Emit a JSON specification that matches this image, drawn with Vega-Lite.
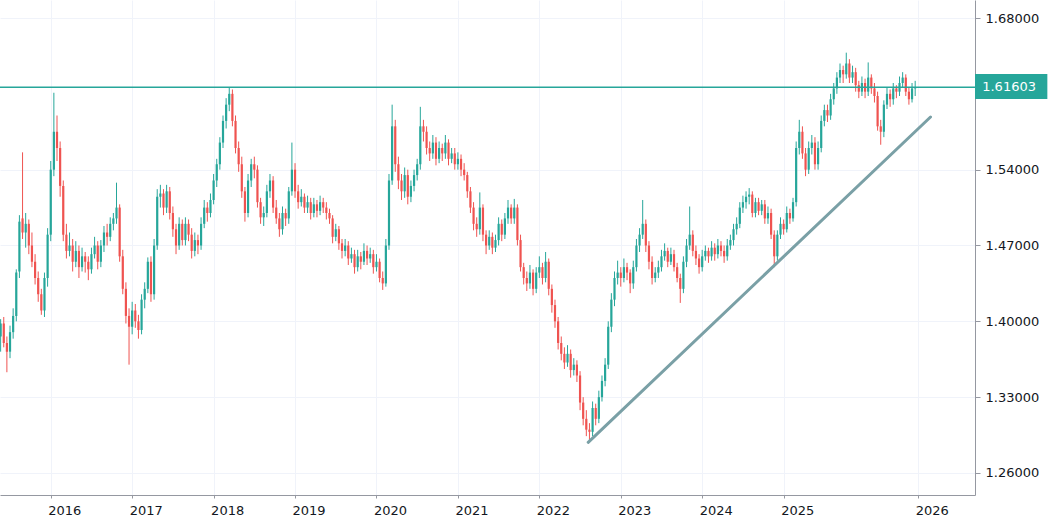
{
  "$schema": "https://vega.github.io/schema/vega-lite/v6.json",
  "description": "Weekly candles with a resistance line at 1.61603 and a rising trend line.",
  "width": 975,
  "height": 495,
  "autosize": {"type": "none"},
  "padding": {"left": 0, "top": 0, "right": 73, "bottom": 31},
  "background": "white",
  "config": {"view": {"stroke": null}, "font": "DejaVu Sans"},
  "datasets": {
    "candles": [
      {"o":1.386,"h":1.402,"l":1.372,"c":1.398},{"o":1.398,"h":1.404,"l":1.376,"c":1.380},{"o":1.380,"h":1.386,"l":1.353,"c":1.372},{"o":1.372,"h":1.396,"l":1.366,"c":1.390},
      {"o":1.390,"h":1.412,"l":1.384,"c":1.405},{"o":1.405,"h":1.448,"l":1.400,"c":1.445},{"o":1.446,"h":1.498,"l":1.440,"c":1.492},{"o":1.495,"h":1.556,"l":1.476,"c":1.482},
      {"o":1.482,"h":1.500,"l":1.468,"c":1.490},{"o":1.490,"h":1.494,"l":1.462,"c":1.470},{"o":1.470,"h":1.482,"l":1.450,"c":1.455},{"o":1.455,"h":1.462,"l":1.434,"c":1.440},
      {"o":1.440,"h":1.446,"l":1.418,"c":1.425},{"o":1.425,"h":1.430,"l":1.406,"c":1.410},{"o":1.410,"h":1.445,"l":1.404,"c":1.440},{"o":1.440,"h":1.486,"l":1.432,"c":1.480},
      {"o":1.480,"h":1.548,"l":1.474,"c":1.540},{"o":1.540,"h":1.611,"l":1.534,"c":1.575},{"o":1.575,"h":1.590,"l":1.548,"c":1.560},{"o":1.560,"h":1.566,"l":1.515,"c":1.525},
      {"o":1.525,"h":1.530,"l":1.474,"c":1.480},{"o":1.480,"h":1.490,"l":1.458,"c":1.465},{"o":1.465,"h":1.482,"l":1.460,"c":1.470},{"o":1.470,"h":1.476,"l":1.446,"c":1.455},
      {"o":1.455,"h":1.474,"l":1.450,"c":1.465},{"o":1.465,"h":1.470,"l":1.440,"c":1.450},{"o":1.450,"h":1.468,"l":1.446,"c":1.460},{"o":1.460,"h":1.464,"l":1.445,"c":1.455},
      {"o":1.455,"h":1.460,"l":1.438,"c":1.448},{"o":1.448,"h":1.468,"l":1.444,"c":1.462},{"o":1.462,"h":1.478,"l":1.458,"c":1.470},{"o":1.470,"h":1.474,"l":1.448,"c":1.455},
      {"o":1.455,"h":1.475,"l":1.450,"c":1.470},{"o":1.470,"h":1.488,"l":1.464,"c":1.482},{"o":1.482,"h":1.490,"l":1.470,"c":1.478},{"o":1.478,"h":1.496,"l":1.474,"c":1.490},
      {"o":1.490,"h":1.500,"l":1.484,"c":1.495},{"o":1.495,"h":1.528,"l":1.490,"c":1.505},{"o":1.505,"h":1.508,"l":1.455,"c":1.460},{"o":1.460,"h":1.466,"l":1.425,"c":1.430},
      {"o":1.430,"h":1.436,"l":1.398,"c":1.405},{"o":1.405,"h":1.412,"l":1.360,"c":1.395},{"o":1.395,"h":1.418,"l":1.388,"c":1.410},{"o":1.410,"h":1.416,"l":1.394,"c":1.400},
      {"o":1.400,"h":1.406,"l":1.384,"c":1.392},{"o":1.392,"h":1.425,"l":1.388,"c":1.420},{"o":1.420,"h":1.436,"l":1.412,"c":1.430},{"o":1.430,"h":1.459,"l":1.426,"c":1.455},
      {"o":1.455,"h":1.460,"l":1.418,"c":1.425},{"o":1.425,"h":1.476,"l":1.420,"c":1.470},{"o":1.470,"h":1.522,"l":1.466,"c":1.515},{"o":1.515,"h":1.526,"l":1.505,"c":1.518},
      {"o":1.518,"h":1.522,"l":1.498,"c":1.505},{"o":1.505,"h":1.526,"l":1.500,"c":1.520},{"o":1.520,"h":1.524,"l":1.494,"c":1.500},{"o":1.500,"h":1.506,"l":1.478,"c":1.485},
      {"o":1.485,"h":1.490,"l":1.462,"c":1.470},{"o":1.470,"h":1.496,"l":1.466,"c":1.490},{"o":1.490,"h":1.494,"l":1.470,"c":1.475},{"o":1.475,"h":1.496,"l":1.470,"c":1.490},
      {"o":1.490,"h":1.494,"l":1.474,"c":1.480},{"o":1.480,"h":1.486,"l":1.458,"c":1.465},{"o":1.465,"h":1.482,"l":1.460,"c":1.475},{"o":1.475,"h":1.480,"l":1.462,"c":1.470},
      {"o":1.470,"h":1.496,"l":1.466,"c":1.490},{"o":1.490,"h":1.512,"l":1.486,"c":1.505},{"o":1.505,"h":1.510,"l":1.492,"c":1.500},{"o":1.500,"h":1.518,"l":1.496,"c":1.512},
      {"o":1.512,"h":1.536,"l":1.508,"c":1.530},{"o":1.530,"h":1.550,"l":1.524,"c":1.545},{"o":1.545,"h":1.570,"l":1.540,"c":1.565},{"o":1.565,"h":1.590,"l":1.560,"c":1.585},
      {"o":1.585,"h":1.606,"l":1.578,"c":1.600},{"o":1.600,"h":1.616,"l":1.594,"c":1.610},{"o":1.610,"h":1.614,"l":1.580,"c":1.585},{"o":1.585,"h":1.590,"l":1.555,"c":1.560},
      {"o":1.560,"h":1.566,"l":1.538,"c":1.545},{"o":1.545,"h":1.552,"l":1.514,"c":1.520},{"o":1.520,"h":1.524,"l":1.492,"c":1.500},{"o":1.500,"h":1.536,"l":1.496,"c":1.530},
      {"o":1.530,"h":1.550,"l":1.524,"c":1.545},{"o":1.545,"h":1.552,"l":1.532,"c":1.540},{"o":1.540,"h":1.544,"l":1.505,"c":1.510},{"o":1.510,"h":1.514,"l":1.490,"c":1.496},
      {"o":1.496,"h":1.506,"l":1.488,"c":1.500},{"o":1.500,"h":1.526,"l":1.496,"c":1.520},{"o":1.520,"h":1.536,"l":1.514,"c":1.530},{"o":1.530,"h":1.534,"l":1.500,"c":1.505},
      {"o":1.505,"h":1.512,"l":1.490,"c":1.495},{"o":1.495,"h":1.500,"l":1.478,"c":1.485},{"o":1.485,"h":1.506,"l":1.480,"c":1.500},{"o":1.500,"h":1.504,"l":1.488,"c":1.495},
      {"o":1.495,"h":1.524,"l":1.490,"c":1.520},{"o":1.520,"h":1.565,"l":1.516,"c":1.540},{"o":1.540,"h":1.546,"l":1.514,"c":1.520},{"o":1.520,"h":1.526,"l":1.504,"c":1.510},
      {"o":1.510,"h":1.522,"l":1.506,"c":1.515},{"o":1.515,"h":1.518,"l":1.500,"c":1.505},{"o":1.505,"h":1.516,"l":1.500,"c":1.510},{"o":1.510,"h":1.514,"l":1.494,"c":1.500},
      {"o":1.500,"h":1.514,"l":1.496,"c":1.508},{"o":1.508,"h":1.512,"l":1.496,"c":1.502},{"o":1.502,"h":1.516,"l":1.498,"c":1.510},{"o":1.510,"h":1.514,"l":1.500,"c":1.505},
      {"o":1.505,"h":1.510,"l":1.494,"c":1.500},{"o":1.500,"h":1.504,"l":1.490,"c":1.495},{"o":1.495,"h":1.498,"l":1.472,"c":1.478},{"o":1.478,"h":1.490,"l":1.474,"c":1.485},
      {"o":1.485,"h":1.488,"l":1.466,"c":1.472},{"o":1.472,"h":1.476,"l":1.458,"c":1.465},{"o":1.465,"h":1.476,"l":1.460,"c":1.470},{"o":1.470,"h":1.474,"l":1.452,"c":1.458},
      {"o":1.458,"h":1.468,"l":1.454,"c":1.462},{"o":1.462,"h":1.466,"l":1.444,"c":1.450},{"o":1.450,"h":1.466,"l":1.446,"c":1.460},{"o":1.460,"h":1.464,"l":1.448,"c":1.455},
      {"o":1.455,"h":1.472,"l":1.452,"c":1.465},{"o":1.465,"h":1.470,"l":1.452,"c":1.458},{"o":1.458,"h":1.468,"l":1.454,"c":1.462},{"o":1.462,"h":1.466,"l":1.444,"c":1.450},
      {"o":1.450,"h":1.462,"l":1.446,"c":1.455},{"o":1.455,"h":1.458,"l":1.436,"c":1.440},{"o":1.440,"h":1.446,"l":1.429,"c":1.435},{"o":1.435,"h":1.476,"l":1.432,"c":1.470},
      {"o":1.470,"h":1.536,"l":1.466,"c":1.530},{"o":1.530,"h":1.600,"l":1.526,"c":1.580},{"o":1.580,"h":1.586,"l":1.538,"c":1.545},{"o":1.545,"h":1.552,"l":1.522,"c":1.530},
      {"o":1.530,"h":1.536,"l":1.512,"c":1.520},{"o":1.520,"h":1.542,"l":1.514,"c":1.535},{"o":1.535,"h":1.540,"l":1.508,"c":1.515},{"o":1.515,"h":1.530,"l":1.510,"c":1.525},
      {"o":1.525,"h":1.540,"l":1.520,"c":1.535},{"o":1.535,"h":1.550,"l":1.530,"c":1.545},{"o":1.545,"h":1.598,"l":1.540,"c":1.580},{"o":1.580,"h":1.586,"l":1.566,"c":1.575},
      {"o":1.575,"h":1.580,"l":1.554,"c":1.560},{"o":1.560,"h":1.566,"l":1.548,"c":1.555},{"o":1.555,"h":1.572,"l":1.550,"c":1.565},{"o":1.565,"h":1.570,"l":1.544,"c":1.550},
      {"o":1.550,"h":1.566,"l":1.546,"c":1.560},{"o":1.560,"h":1.564,"l":1.548,"c":1.555},{"o":1.555,"h":1.572,"l":1.550,"c":1.565},{"o":1.565,"h":1.568,"l":1.544,"c":1.550},
      {"o":1.550,"h":1.560,"l":1.546,"c":1.555},{"o":1.555,"h":1.560,"l":1.540,"c":1.545},{"o":1.545,"h":1.556,"l":1.540,"c":1.550},{"o":1.550,"h":1.554,"l":1.534,"c":1.540},
      {"o":1.540,"h":1.546,"l":1.530,"c":1.535},{"o":1.535,"h":1.538,"l":1.514,"c":1.520},{"o":1.520,"h":1.524,"l":1.500,"c":1.505},{"o":1.505,"h":1.510,"l":1.484,"c":1.490},
      {"o":1.490,"h":1.496,"l":1.478,"c":1.485},{"o":1.485,"h":1.519,"l":1.480,"c":1.505},{"o":1.505,"h":1.508,"l":1.474,"c":1.480},{"o":1.480,"h":1.484,"l":1.462,"c":1.470},
      {"o":1.470,"h":1.484,"l":1.466,"c":1.478},{"o":1.478,"h":1.482,"l":1.462,"c":1.468},{"o":1.468,"h":1.480,"l":1.464,"c":1.475},{"o":1.475,"h":1.496,"l":1.470,"c":1.490},
      {"o":1.490,"h":1.494,"l":1.474,"c":1.480},{"o":1.480,"h":1.500,"l":1.476,"c":1.495},{"o":1.495,"h":1.512,"l":1.490,"c":1.505},{"o":1.505,"h":1.508,"l":1.490,"c":1.495},
      {"o":1.495,"h":1.513,"l":1.490,"c":1.505},{"o":1.505,"h":1.508,"l":1.470,"c":1.475},{"o":1.475,"h":1.480,"l":1.446,"c":1.450},{"o":1.450,"h":1.454,"l":1.434,"c":1.440},
      {"o":1.440,"h":1.446,"l":1.428,"c":1.435},{"o":1.435,"h":1.452,"l":1.430,"c":1.445},{"o":1.445,"h":1.448,"l":1.424,"c":1.430},{"o":1.430,"h":1.450,"l":1.426,"c":1.445},
      {"o":1.445,"h":1.460,"l":1.440,"c":1.450},{"o":1.450,"h":1.454,"l":1.434,"c":1.440},{"o":1.440,"h":1.464,"l":1.436,"c":1.455},{"o":1.455,"h":1.458,"l":1.424,"c":1.430},
      {"o":1.430,"h":1.434,"l":1.408,"c":1.415},{"o":1.415,"h":1.420,"l":1.394,"c":1.400},{"o":1.400,"h":1.404,"l":1.374,"c":1.380},{"o":1.380,"h":1.386,"l":1.364,"c":1.370},
      {"o":1.370,"h":1.376,"l":1.356,"c":1.362},{"o":1.362,"h":1.378,"l":1.358,"c":1.370},{"o":1.370,"h":1.374,"l":1.348,"c":1.355},{"o":1.355,"h":1.366,"l":1.350,"c":1.360},
      {"o":1.360,"h":1.364,"l":1.344,"c":1.350},{"o":1.350,"h":1.354,"l":1.318,"c":1.325},{"o":1.325,"h":1.330,"l":1.304,"c":1.310},{"o":1.310,"h":1.318,"l":1.294,"c":1.300},
      {"o":1.300,"h":1.306,"l":1.290,"c":1.298},{"o":1.298,"h":1.326,"l":1.294,"c":1.320},{"o":1.320,"h":1.324,"l":1.304,"c":1.310},{"o":1.310,"h":1.336,"l":1.306,"c":1.330},
      {"o":1.330,"h":1.350,"l":1.326,"c":1.345},{"o":1.345,"h":1.366,"l":1.340,"c":1.360},{"o":1.360,"h":1.400,"l":1.356,"c":1.395},{"o":1.395,"h":1.426,"l":1.390,"c":1.420},
      {"o":1.420,"h":1.446,"l":1.414,"c":1.440},{"o":1.440,"h":1.456,"l":1.434,"c":1.445},{"o":1.445,"h":1.450,"l":1.432,"c":1.440},{"o":1.440,"h":1.458,"l":1.436,"c":1.450},
      {"o":1.450,"h":1.454,"l":1.438,"c":1.445},{"o":1.445,"h":1.448,"l":1.426,"c":1.435},{"o":1.435,"h":1.456,"l":1.430,"c":1.450},{"o":1.450,"h":1.476,"l":1.446,"c":1.470},
      {"o":1.470,"h":1.486,"l":1.464,"c":1.480},{"o":1.480,"h":1.512,"l":1.476,"c":1.490},{"o":1.490,"h":1.494,"l":1.464,"c":1.470},{"o":1.470,"h":1.474,"l":1.448,"c":1.455},
      {"o":1.455,"h":1.460,"l":1.434,"c":1.440},{"o":1.440,"h":1.450,"l":1.436,"c":1.445},{"o":1.445,"h":1.456,"l":1.440,"c":1.450},{"o":1.450,"h":1.466,"l":1.446,"c":1.460},
      {"o":1.460,"h":1.472,"l":1.456,"c":1.465},{"o":1.465,"h":1.468,"l":1.450,"c":1.455},{"o":1.455,"h":1.468,"l":1.452,"c":1.462},{"o":1.462,"h":1.466,"l":1.446,"c":1.450},
      {"o":1.450,"h":1.454,"l":1.436,"c":1.440},{"o":1.440,"h":1.444,"l":1.417,"c":1.430},{"o":1.430,"h":1.460,"l":1.426,"c":1.455},{"o":1.455,"h":1.476,"l":1.450,"c":1.470},
      {"o":1.470,"h":1.506,"l":1.466,"c":1.480},{"o":1.480,"h":1.484,"l":1.460,"c":1.465},{"o":1.465,"h":1.470,"l":1.452,"c":1.458},{"o":1.458,"h":1.462,"l":1.444,"c":1.450},
      {"o":1.450,"h":1.466,"l":1.446,"c":1.460},{"o":1.460,"h":1.470,"l":1.456,"c":1.465},{"o":1.465,"h":1.468,"l":1.454,"c":1.460},{"o":1.460,"h":1.474,"l":1.456,"c":1.468},
      {"o":1.468,"h":1.472,"l":1.456,"c":1.462},{"o":1.462,"h":1.476,"l":1.458,"c":1.470},{"o":1.470,"h":1.474,"l":1.460,"c":1.465},{"o":1.465,"h":1.470,"l":1.454,"c":1.460},
      {"o":1.460,"h":1.476,"l":1.456,"c":1.470},{"o":1.470,"h":1.480,"l":1.466,"c":1.475},{"o":1.475,"h":1.490,"l":1.470,"c":1.485},{"o":1.485,"h":1.496,"l":1.480,"c":1.490},
      {"o":1.490,"h":1.510,"l":1.486,"c":1.505},{"o":1.505,"h":1.516,"l":1.500,"c":1.510},{"o":1.510,"h":1.520,"l":1.504,"c":1.515},{"o":1.515,"h":1.523,"l":1.508,"c":1.517},
      {"o":1.517,"h":1.520,"l":1.496,"c":1.500},{"o":1.500,"h":1.514,"l":1.496,"c":1.510},{"o":1.510,"h":1.514,"l":1.498,"c":1.502},{"o":1.502,"h":1.512,"l":1.498,"c":1.508},
      {"o":1.508,"h":1.512,"l":1.490,"c":1.495},{"o":1.495,"h":1.506,"l":1.490,"c":1.500},{"o":1.500,"h":1.504,"l":1.476,"c":1.480},{"o":1.480,"h":1.484,"l":1.450,"c":1.460},
      {"o":1.460,"h":1.484,"l":1.456,"c":1.480},{"o":1.480,"h":1.496,"l":1.476,"c":1.490},{"o":1.490,"h":1.494,"l":1.480,"c":1.485},{"o":1.485,"h":1.506,"l":1.482,"c":1.500},
      {"o":1.500,"h":1.504,"l":1.490,"c":1.495},{"o":1.495,"h":1.514,"l":1.492,"c":1.510},{"o":1.510,"h":1.566,"l":1.506,"c":1.560},{"o":1.560,"h":1.586,"l":1.554,"c":1.575},
      {"o":1.575,"h":1.580,"l":1.550,"c":1.555},{"o":1.555,"h":1.560,"l":1.534,"c":1.540},{"o":1.540,"h":1.566,"l":1.536,"c":1.560},{"o":1.560,"h":1.572,"l":1.554,"c":1.565},
      {"o":1.565,"h":1.570,"l":1.540,"c":1.545},{"o":1.545,"h":1.566,"l":1.540,"c":1.560},{"o":1.560,"h":1.590,"l":1.556,"c":1.585},{"o":1.585,"h":1.600,"l":1.580,"c":1.595},
      {"o":1.595,"h":1.600,"l":1.584,"c":1.590},{"o":1.590,"h":1.610,"l":1.586,"c":1.605},{"o":1.605,"h":1.620,"l":1.600,"c":1.615},{"o":1.615,"h":1.630,"l":1.610,"c":1.625},
      {"o":1.625,"h":1.638,"l":1.620,"c":1.632},{"o":1.632,"h":1.636,"l":1.620,"c":1.628},{"o":1.628,"h":1.648,"l":1.624,"c":1.638},{"o":1.638,"h":1.642,"l":1.620,"c":1.625},
      {"o":1.625,"h":1.636,"l":1.620,"c":1.630},{"o":1.630,"h":1.634,"l":1.612,"c":1.618},{"o":1.618,"h":1.622,"l":1.606,"c":1.612},{"o":1.612,"h":1.626,"l":1.608,"c":1.620},
      {"o":1.620,"h":1.624,"l":1.606,"c":1.612},{"o":1.612,"h":1.639,"l":1.608,"c":1.625},{"o":1.625,"h":1.628,"l":1.610,"c":1.615},{"o":1.615,"h":1.620,"l":1.602,"c":1.608},
      {"o":1.608,"h":1.612,"l":1.576,"c":1.580},{"o":1.580,"h":1.586,"l":1.563,"c":1.575},{"o":1.575,"h":1.604,"l":1.570,"c":1.600},{"o":1.600,"h":1.616,"l":1.596,"c":1.610},
      {"o":1.610,"h":1.614,"l":1.598,"c":1.605},{"o":1.605,"h":1.620,"l":1.600,"c":1.615},{"o":1.615,"h":1.618,"l":1.606,"c":1.612},{"o":1.612,"h":1.626,"l":1.608,"c":1.620},
      {"o":1.620,"h":1.630,"l":1.616,"c":1.625},{"o":1.625,"h":1.628,"l":1.608,"c":1.612},{"o":1.612,"h":1.616,"l":1.600,"c":1.605},{"o":1.605,"h":1.620,"l":1.602,"c":1.615},
      {"o":1.615,"h":1.622,"l":1.608,"c":1.616}
    ],
    "trend": [{"i": 188.6, "p": 1.2883}, {"i": 297.9, "p": 1.5886}],
    "last": [{"i0": 312.1, "i1": 335.2, "it": 314.4, "top": 1.6283, "bottom": 1.6052, "p": 1.61603, "label": "1.61603"}]
  },
  "layer": [
    {
      "data": {"name": "candles"},
      "transform": [{"window": [{"op": "row_number", "as": "i"}]}],
      "encoding": {
        "x": {
          "field": "i", "type": "quantitative", "title": null,
          "scale": {"domain": [0.8, 312.1], "nice": false, "zero": false, "padding": 0},
          "axis": {
            "values": [17, 43, 69, 95, 121, 147, 173, 199, 225, 251, 294],
            "labelExpr": "datum.value > 260 ? '2026' : '' + (2016 + (datum.value - 17) / 26)",
            "labelAlign": "left", "labelOffset": -3, "labelFontSize": 13, "labelColor": "#131722",
            "labelPadding": 6, "tickSize": 3, "tickColor": "#9598a1",
            "domainColor": "#9598a1", "gridColor": "#f0f3fa", "labelFlush": false
          }
        },
        "color": {
          "condition": {"test": "datum.c > datum.o", "value": "#26a69a"},
          "value": "#ef5350"
        }
      },
      "layer": [
        {
          "mark": {"type": "rule", "strokeWidth": 1},
          "encoding": {
            "y": {
              "field": "l", "type": "quantitative", "title": null,
              "scale": {"domain": [1.23968, 1.69662], "nice": false, "zero": false, "padding": 0},
              "axis": {
                "orient": "right",
                "values": [1.26, 1.33, 1.40, 1.47, 1.54, 1.68],
                "format": ".5f", "labelFontSize": 13, "labelColor": "#131722",
                "labelPadding": 5, "tickSize": 5, "tickColor": "#9598a1",
                "domainColor": "#9598a1", "gridColor": "#f0f3fa"
              }
            },
            "y2": {"field": "h"}
          }
        },
        {
          "mark": {"type": "bar", "size": 2.2},
          "encoding": {
            "y": {"field": "o", "type": "quantitative", "title": null},
            "y2": {"field": "c"}
          }
        }
      ]
    },
    {
      "data": {"values": [{"p": 1.61603}]},
      "mark": {"type": "rule", "color": "#26a69a", "strokeWidth": 1.6},
      "encoding": {"y": {"field": "p", "type": "quantitative", "title": null}}
    },
    {
      "data": {"name": "trend"},
      "mark": {"type": "line", "color": "#7aa0a6", "strokeWidth": 3, "strokeCap": "round"},
      "encoding": {
        "x": {"field": "i", "type": "quantitative", "title": null},
        "y": {"field": "p", "type": "quantitative", "title": null}
      }
    },
    {
      "data": {"name": "last"},
      "mark": {"type": "rect", "color": "#26a69a", "clip": false},
      "encoding": {
        "x": {"field": "i0", "type": "quantitative", "title": null},
        "x2": {"field": "i1"},
        "y": {"field": "top", "type": "quantitative", "title": null},
        "y2": {"field": "bottom"}
      }
    },
    {
      "data": {"name": "last"},
      "mark": {"type": "text", "color": "white", "align": "left", "baseline": "middle", "fontSize": 13, "clip": false},
      "encoding": {
        "x": {"field": "it", "type": "quantitative", "title": null},
        "y": {"field": "p", "type": "quantitative", "title": null},
        "text": {"field": "label"}
      }
    }
  ]
}
